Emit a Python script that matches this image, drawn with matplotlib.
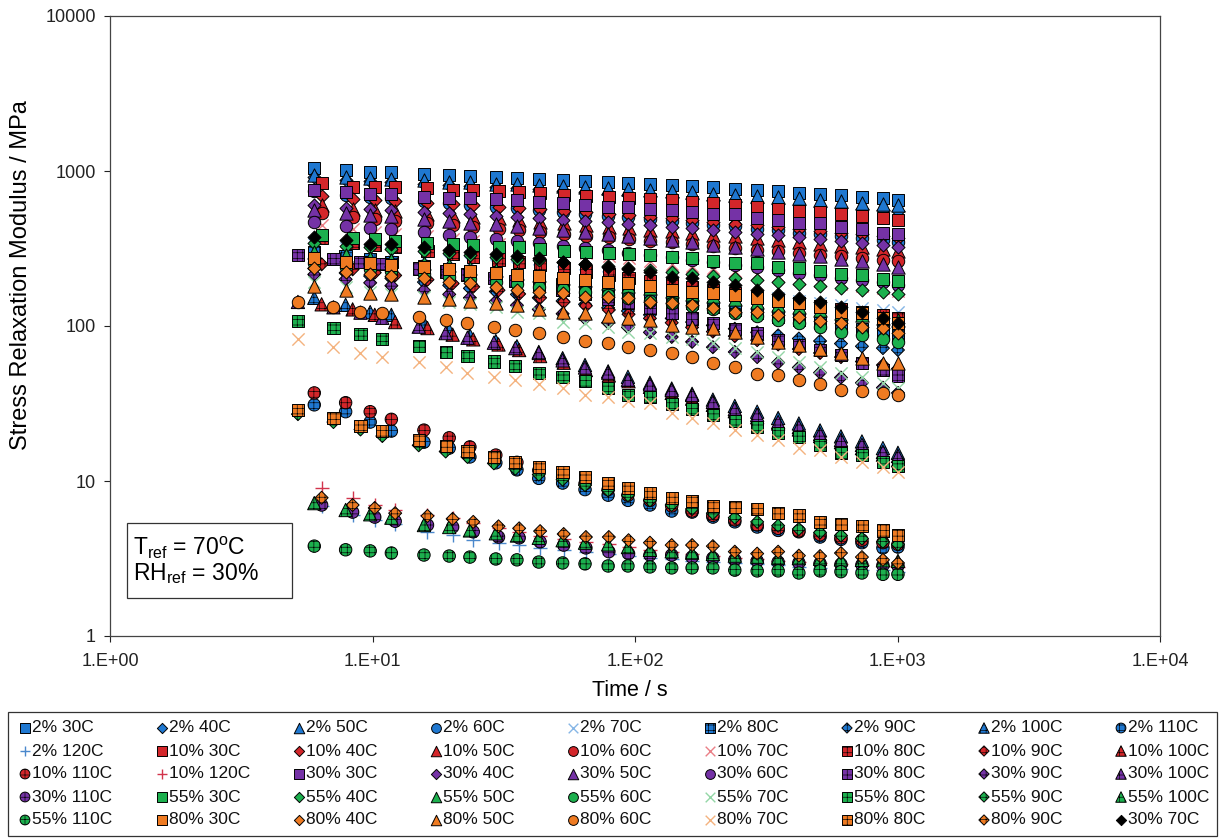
import matplotlib
matplotlib.use("Agg")
import matplotlib.pyplot as plt
from matplotlib.patches import Rectangle
from matplotlib.ticker import FixedLocator, FixedFormatter, NullLocator

plt.rcParams['font.family'] = ['Liberation Sans', 'DejaVu Sans']
plt.rcParams['mathtext.fontset'] = 'custom'
plt.rcParams['mathtext.rm'] = 'Liberation Sans'
plt.rcParams['mathtext.it'] = 'Liberation Sans:italic'
plt.rcParams['hatch.linewidth'] = 0.45

# ---- time grids (s) ----
t_a = [6.0, 7.9, 9.8, 11.8, 15.7, 19.6, 23.5, 29.5, 35.5, 43.0, 53.0, 64.5, 79.0, 94.0,
       114, 138, 165, 198, 240, 292, 351, 421, 507, 609, 732, 880, 1004]
t_b = [5.2, 7.1, 9.0, 10.9, 15.0, 19.0, 23.0, 29.0, 35.0, 43.0, 53.0, 64.5, 79.0, 94.0,
       114, 138, 165, 198, 240, 292, 351, 421, 507, 609, 732, 880, 1004]
t_c = [6.4, 8.4, 10.2, 12.2, 16.2, 20.2, 24.2, 30.2, 36.2, 43.5, 53.5, 65.0, 79.5, 94.5,
       114, 138, 165, 198, 240, 292, 351, 421, 507, 609, 732, 880, 1004]

# ---- stress relaxation modulus (MPa) ----
rh2_30 = [1050, 1010, 990, 985, 960, 945, 930, 915, 905, 890, 875, 860, 850, 840, 830, 815, 800, 785, 770, 755, 740, 725, 710, 695, 680, 665, 650]
rh2_40 = [915, 880, 860, 850, 830, 815, 800, 790, 775, 760, 745, 730, 715, 700, 690, 675, 660, 650, 635, 620, 610, 600, 590, 580, 570, 560, 550]
rh2_50 = [940, 910, 895, 890, 870, 855, 845, 830, 820, 810, 795, 785, 775, 765, 755, 740, 730, 715, 705, 690, 675, 665, 650, 640, 625, 615, 600]
rh2_60 = [740, 700, 680, 665, 640, 620, 605, 590, 575, 560, 545, 530, 515, 505, 490, 475, 465, 450, 440, 425, 415, 400, 390, 380, 370, 360, 350]
rh2_70 = [340, 320, 305, 295, 280, 268, 258, 248, 240, 230, 222, 214, 206, 198, 190, 183, 176, 170, 163, 157, 151, 146, 141, 136, 131, 127, 123]
rh2_80 = [300, 282, 270, 260, 245, 233, 223, 213, 204, 195, 186, 178, 170, 162, 154, 147, 140, 133, 127, 121, 115, 110, 105, 100, 96, 92, 88]
rh2_90 = [235, 220, 210, 203, 192, 183, 175, 167, 160, 152, 145, 138, 131, 125, 118, 112, 106, 101, 96, 91, 87, 83, 80, 77, 74, 72, 70]
rh2_100 = [152, 137, 123, 118, 105, 94, 87, 80, 74, 68, 62, 56, 51, 47, 43, 39.5, 36.5, 33.5, 30.5, 28, 25.5, 23.5, 21.2, 19.4, 18, 16.3, 15.2]
rh2_110 = [31, 28, 24, 21, 17.8, 16.3, 14.3, 13.1, 11.8, 10.4, 9.7, 8.8, 8.1, 7.5, 7.0, 6.4, 6.3, 5.85, 5.45, 5.05, 4.8, 4.7, 4.35, 4.2, 4.0, 3.7, 3.75]
rh2_120 = [6.9, 6.0, 5.6, 5.3, 4.7, 4.5, 4.15, 4.0, 3.85, 3.7, 3.6, 3.5, 3.4, 3.3, 3.2, 3.15, 3.05, 3.0, 2.95, 2.9, 2.85, 2.8, 2.75, 2.7, 2.68, 2.65, 2.6]

rh10_30 = [840, 790, 790, 790, 780, 755, 755, 740, 735, 720, 705, 690, 680, 670, 660, 650, 630, 620, 600, 585, 570, 555, 540, 530, 510, 495, 485]
rh10_40 = [690, 660, 650, 640, 625, 612, 600, 590, 578, 566, 554, 542, 530, 518, 506, 494, 482, 470, 458, 446, 434, 422, 410, 400, 390, 380, 370]
rh10_50 = [600, 572, 558, 548, 530, 516, 505, 494, 483, 471, 460, 449, 438, 428, 418, 408, 398, 388, 378, 368, 358, 348, 339, 330, 321, 312, 303]
rh10_60 = [535, 505, 490, 478, 462, 448, 437, 425, 415, 404, 393, 383, 373, 364, 355, 346, 337, 328, 320, 311, 303, 295, 288, 281, 274, 268, 262]
rh10_70 = [450, 420, 405, 395, 378, 364, 352, 340, 328, 316, 305, 294, 283, 273, 263, 253, 244, 235, 226, 218, 210, 202, 195, 188, 181, 175, 169]
rh10_80 = [370, 345, 332, 322, 306, 292, 281, 269, 258, 247, 236, 225, 215, 205, 196, 187, 178, 170, 162, 154, 147, 140, 134, 128, 122, 117, 112]
rh10_90 = [250, 232, 221, 212, 199, 188, 179, 170, 161, 152, 143, 135, 127, 119, 112, 105, 98, 92, 86, 81, 76, 71, 67, 63, 59, 56, 53]
rh10_100 = [138, 128, 118, 106, 97, 88, 82, 76, 70, 64, 58, 52, 48, 44, 40.5, 37, 34, 31, 28.2, 25.8, 23.5, 21.5, 19.5, 17.8, 16.3, 14.8, 13.6]
rh10_110 = [37, 32, 28, 25, 21.3, 19, 16.6, 14.7, 13.2, 11.7, 10.6, 9.6, 8.8, 8.1, 7.5, 6.9, 6.4, 6.0, 5.6, 5.2, 4.95, 4.75, 4.5, 4.3, 4.15, 4.0, 3.9]
rh10_120 = [9.0, 7.8, 7.0, 6.5, 6.0, 5.8, 5.35, 4.95, 4.7, 4.45, 4.25, 4.05, 3.9, 3.75, 3.6, 3.5, 3.4, 3.3, 3.2, 3.12, 3.05, 3.0, 2.95, 2.9, 2.85, 2.82, 2.78]

rh30_30 = [750, 730, 715, 715, 680, 670, 670, 660, 650, 630, 620, 600, 585, 585, 570, 560, 545, 525, 525, 495, 485, 460, 460, 435, 425, 400, 390]
rh30_40 = [600, 580, 568, 560, 545, 535, 525, 515, 506, 496, 486, 476, 466, 456, 446, 436, 426, 416, 405, 395, 385, 375, 365, 355, 345, 335, 325]
rh30_50 = [560, 535, 520, 510, 490, 476, 465, 452, 440, 428, 416, 404, 392, 380, 369, 358, 346, 335, 324, 313, 302, 292, 282, 272, 262, 252, 242]
rh30_60 = [470, 445, 430, 420, 402, 388, 377, 365, 354, 342, 330, 319, 308, 297, 287, 277, 267, 257, 248, 239, 230, 221, 213, 205, 198, 191, 184]
rh30_70 = [375, 360, 340, 340, 325, 310, 300, 290, 281, 274, 260, 252, 240, 233, 223, 207, 204, 192, 184, 171, 161, 152, 142, 133, 123, 112, 105]
rh30_80 = [287, 270, 260, 250, 235, 225, 215, 205, 195, 185, 172, 160, 150, 140, 131, 121, 112, 105, 96, 90, 81, 75, 70, 65, 58, 52, 48]
rh30_90 = [215, 200, 190, 182, 170, 160, 152, 144, 136, 128, 120, 112, 105, 98, 91, 85, 79, 73, 68, 63, 58, 54, 50, 46.5, 43, 40, 37]
rh30_100 = [143, 132, 122, 113, 99, 90, 84, 78, 72, 67, 60, 54, 50, 45, 42, 38.6, 35.9, 32.4, 29.1, 26.7, 24.0, 22.3, 20.1, 18.4, 17.1, 15.4, 14.5]
rh30_110 = [7.0, 6.3, 5.85, 5.5, 5.2, 5.05, 4.7, 4.35, 4.3, 4.05, 3.86, 3.7, 3.5, 3.4, 3.33, 3.33, 3.23, 3.18, 3.1, 3.05, 3.0, 2.97, 2.94, 2.9, 2.88, 2.86, 2.84]

rh55_30 = [385, 370, 365, 355, 345, 340, 335, 325, 325, 315, 305, 300, 295, 290, 287, 278, 275, 262, 255, 255, 240, 236, 226, 217, 214, 200, 195]
rh55_40 = [345, 330, 322, 315, 303, 295, 288, 280, 272, 265, 257, 250, 243, 236, 229, 222, 216, 210, 204, 198, 192, 186, 180, 175, 170, 166, 162]
rh55_50 = [300, 285, 276, 268, 256, 246, 238, 229, 221, 213, 205, 197, 189, 182, 175, 168, 161, 155, 149, 143, 137, 132, 127, 122, 117, 113, 109]
rh55_60 = [255, 242, 234, 228, 217, 208, 201, 193, 186, 179, 172, 165, 158, 152, 146, 140, 134, 128, 122, 116, 110, 104, 98, 92, 87, 82, 79]
rh55_70 = [192, 178, 166, 160, 154, 142, 139, 133, 124, 121, 106, 105, 98, 92, 90, 85, 83, 78, 72, 68, 63, 59, 54, 50, 47, 43, 40]
rh55_80 = [108, 97, 89, 82, 74, 68, 64, 59, 55, 50, 47, 44, 40, 36, 35, 31.4, 29.1, 26.7, 24.4, 22.3, 20.4, 19.2, 17.1, 15.2, 14.7, 13.3, 12.5]
rh55_90 = [27, 24, 21.5, 19.5, 17, 15.5, 14.3, 13, 12, 11, 10.2, 9.4, 8.7, 8.1, 7.5, 7.0, 6.6, 6.2, 5.8, 5.45, 5.15, 4.9, 4.65, 4.45, 4.25, 4.05, 3.9]
rh55_100 = [7.2, 6.5, 6.1, 5.8, 5.2, 5.05, 4.8, 4.6, 4.45, 4.3, 4.15, 4.0, 3.9, 3.75, 3.6, 3.52, 3.45, 3.38, 3.3, 3.25, 3.2, 3.18, 3.15, 3.12, 3.1, 3.08, 3.05]
rh55_110 = [3.8, 3.6, 3.54, 3.43, 3.33, 3.28, 3.23, 3.14, 3.1, 3.0, 2.96, 2.92, 2.83, 2.83, 2.79, 2.75, 2.75, 2.75, 2.66, 2.63, 2.63, 2.55, 2.63, 2.6, 2.55, 2.5, 2.5]

rh80_30 = [275, 260, 255, 248, 240, 233, 226, 220, 214, 210, 204, 198, 192, 190, 181, 171, 166, 163, 158, 152, 145, 141, 133, 123, 121, 112, 105]
rh80_40 = [236, 223, 217, 210, 204, 192, 190, 178, 171, 166, 163, 154, 154, 152, 142, 141, 137, 131, 123, 123, 118, 114, 108, 105, 98, 97, 90]
rh80_50 = [180, 171, 163, 161, 154, 149, 145, 141, 137, 129, 123, 121, 116, 112, 109, 102, 98, 97, 92, 85, 79, 75, 71, 67, 62, 58, 58]
rh80_60 = [142, 133, 123, 121, 114, 109, 104, 98, 94, 90, 85, 80, 78, 73, 70, 67, 63, 58, 54, 49, 48, 45, 42, 38.5, 38, 37, 36]
rh80_70 = [83, 73, 67, 63, 59, 54, 50, 47, 45, 42, 40, 36, 35, 33, 32, 27.5, 25.5, 23.7, 21.3, 19.8, 18.4, 16.3, 15.8, 14.3, 13.3, 12.3, 11.4]
rh80_80 = [28.8, 25.4, 22.6, 21.0, 18.4, 16.8, 15.6, 14.3, 13.3, 12.3, 11.4, 10.6, 9.7, 9.0, 8.4, 7.8, 7.4, 6.9, 6.8, 6.6, 6.2, 6.0, 5.45, 5.3, 5.1, 4.8, 4.5]
rh80_90 = [7.8, 7.0, 6.7, 6.2, 5.95, 5.7, 5.45, 5.1, 4.95, 4.75, 4.55, 4.35, 4.35, 4.15, 4.0, 3.86, 3.86, 3.8, 3.5, 3.4, 3.5, 3.3, 3.28, 3.43, 3.23, 3.1, 2.96]

x_ticks = [1, 10, 100, 1000, 10000]
x_tick_labels = ['1.E+00', '1.E+01', '1.E+02', '1.E+03', '1.E+04']
y_ticks = [1, 10, 100, 1000, 10000]
y_tick_labels = ['1', '10', '100', '1000', '10000']

BLUE, RED, PURPLE, GREEN, ORANGE = '#1f78d1', '#d3262a', '#7532a6', '#1cb04e', '#ef7b22'

# (label, times, values, marker, face colour, hatched)
series = [
    ('2% 30C', t_a, rh2_30, 's', BLUE, False),
    ('2% 40C', t_a, rh2_40, 'D', BLUE, False),
    ('2% 50C', t_a, rh2_50, '^', BLUE, False),
    ('2% 60C', t_a, rh2_60, 'o', BLUE, False),
    ('2% 70C', t_a, rh2_70, 'x', '#86b6e6', False),
    ('2% 80C', t_a, rh2_80, 's', BLUE, True),
    ('2% 90C', t_a, rh2_90, 'D', BLUE, True),
    ('2% 100C', t_a, rh2_100, '^', BLUE, True),
    ('2% 110C', t_a, rh2_110, 'o', BLUE, True),
    ('2% 120C', t_c, rh2_120, '+', '#4a88cc', False),
    ('10% 30C', t_c, rh10_30, 's', RED, False),
    ('10% 40C', t_c, rh10_40, 'D', RED, False),
    ('10% 50C', t_c, rh10_50, '^', RED, False),
    ('10% 60C', t_c, rh10_60, 'o', RED, False),
    ('10% 70C', t_c, rh10_70, 'x', '#ea7f86', False),
    ('10% 80C', t_c, rh10_80, 's', RED, True),
    ('10% 90C', t_c, rh10_90, 'D', RED, True),
    ('10% 100C', t_c, rh10_100, '^', RED, True),
    ('10% 110C', t_a, rh10_110, 'o', RED, True),
    ('10% 120C', t_c, rh10_120, '+', '#d2344c', False),
    ('30% 30C', t_a, rh30_30, 's', PURPLE, False),
    ('30% 40C', t_a, rh30_40, 'D', PURPLE, False),
    ('30% 50C', t_a, rh30_50, '^', PURPLE, False),
    ('30% 60C', t_a, rh30_60, 'o', PURPLE, False),
    ('30% 80C', t_b, rh30_80, 's', PURPLE, True),
    ('30% 90C', t_a, rh30_90, 'D', PURPLE, True),
    ('30% 100C', t_b, rh30_100, '^', PURPLE, True),
    ('30% 110C', t_c, rh30_110, 'o', PURPLE, True),
    ('55% 30C', t_c, rh55_30, 's', GREEN, False),
    ('55% 40C', t_a, rh55_40, 'D', GREEN, False),
    ('55% 50C', t_a, rh55_50, '^', GREEN, False),
    ('55% 60C', t_a, rh55_60, 'o', GREEN, False),
    ('55% 70C', t_a, rh55_70, 'x', '#93d6a6', False),
    ('55% 80C', t_b, rh55_80, 's', GREEN, True),
    ('55% 90C', t_b, rh55_90, 'D', GREEN, True),
    ('55% 100C', t_a, rh55_100, '^', GREEN, True),
    ('55% 110C', t_a, rh55_110, 'o', GREEN, True),
    ('80% 30C', t_a, rh80_30, 's', ORANGE, False),
    ('80% 40C', t_a, rh80_40, 'D', ORANGE, False),
    ('80% 50C', t_a, rh80_50, '^', ORANGE, False),
    ('80% 60C', t_b, rh80_60, 'o', ORANGE, False),
    ('80% 70C', t_b, rh80_70, 'x', '#f4b27e', False),
    ('80% 80C', t_b, rh80_80, 's', ORANGE, True),
    ('80% 90C', t_c, rh80_90, 'D', ORANGE, True),
    ('30% 70C', t_a, rh30_70, 'D', 'black', False),
]

marker_area = {'s': 78, 'D': 44, '^': 92, 'o': 80, 'x': 78, '+': 98}


def draw_marker(target, xs, ys, mk, col, hatched, scale=1.0, **kw):
    """Scatter one series (or one legend swatch) in the chart's marker style."""
    area = marker_area[mk] * scale
    if mk in ('x', '+'):
        return target.scatter(xs, ys, marker=mk, s=area, c=col, linewidths=1.0, **kw)
    return target.scatter(xs, ys, marker=mk, s=area, facecolors=col, edgecolors='black',
                          linewidths=0.7, hatch='+++' if hatched else None, **kw)


W, H = 1225, 839
fig = plt.figure(figsize=(W / 100, H / 100), dpi=100)
ax = fig.add_axes([110 / W, 1 - 636 / H, 1050 / W, 620 / H])

for label, tt, vals, mk, col, hatched in series:
    draw_marker(ax, tt, vals, mk, col, hatched, label=label, zorder=3)

ax.set_xscale('log')
ax.set_yscale('log')
ax.set_xlim(1, 10000)
ax.set_ylim(1, 10000)
ax.xaxis.set_major_locator(FixedLocator(x_ticks))
ax.xaxis.set_major_formatter(FixedFormatter(x_tick_labels))
ax.yaxis.set_major_locator(FixedLocator(y_ticks))
ax.yaxis.set_major_formatter(FixedFormatter(y_tick_labels))
ax.xaxis.set_minor_locator(NullLocator())
ax.yaxis.set_minor_locator(NullLocator())
ax.tick_params(which='major', direction='out', length=4, width=0.8,
               labelsize=13, colors='#222222')
ax.tick_params(axis='x', pad=8)
ax.tick_params(axis='y', pad=6)
for sp in ax.spines.values():
    sp.set_linewidth(0.9)
    sp.set_color('#444444')

fig.text(630 / W, 1 - 690 / H, 'Time / s', ha='center', va='center', fontsize=15.5)
fig.text(21 / W, 1 - 275 / H, 'Stress Relaxation Modulus / MPa', ha='center',
         va='center', rotation=90, fontsize=17)

# overlay in pixel units for the note box and the legend
lay = fig.add_axes([0, 0, 1, 1], facecolor='none')
lay.set_xlim(0, W)
lay.set_ylim(H, 0)
lay.axis('off')

# reference-state note
lay.add_patch(Rectangle((127, 523), 165, 75, facecolor='white', edgecolor='#333333',
                        linewidth=0.9))
lay.text(133, 560, 'T$_{\\mathrm{ref}}$ = 70$^{\\mathrm{o}}$C\nRH$_{\\mathrm{ref}}$ = 30%',
         ha='left', va='center', fontsize=16.5, linespacing=1.0)

# legend: 9 equal columns, filled row by row
ncol = 9
lay.add_patch(Rectangle((8, 712), 1209, 124, facecolor='white', edgecolor='#333333',
                        linewidth=0.9))
for k, (label, tt, vals, mk, col, hatched) in enumerate(series):
    r, c = divmod(k, ncol)
    x0 = 25 + 137 * c
    y0 = 728 + 23 * r
    draw_marker(lay, [x0], [y0], mk, col, hatched, scale=0.62, zorder=3)
    lay.text(x0 + 7, y0, label, ha='left', va='center', fontsize=12.5, color='#111111')

fig.savefig('out.png', dpi=100)
